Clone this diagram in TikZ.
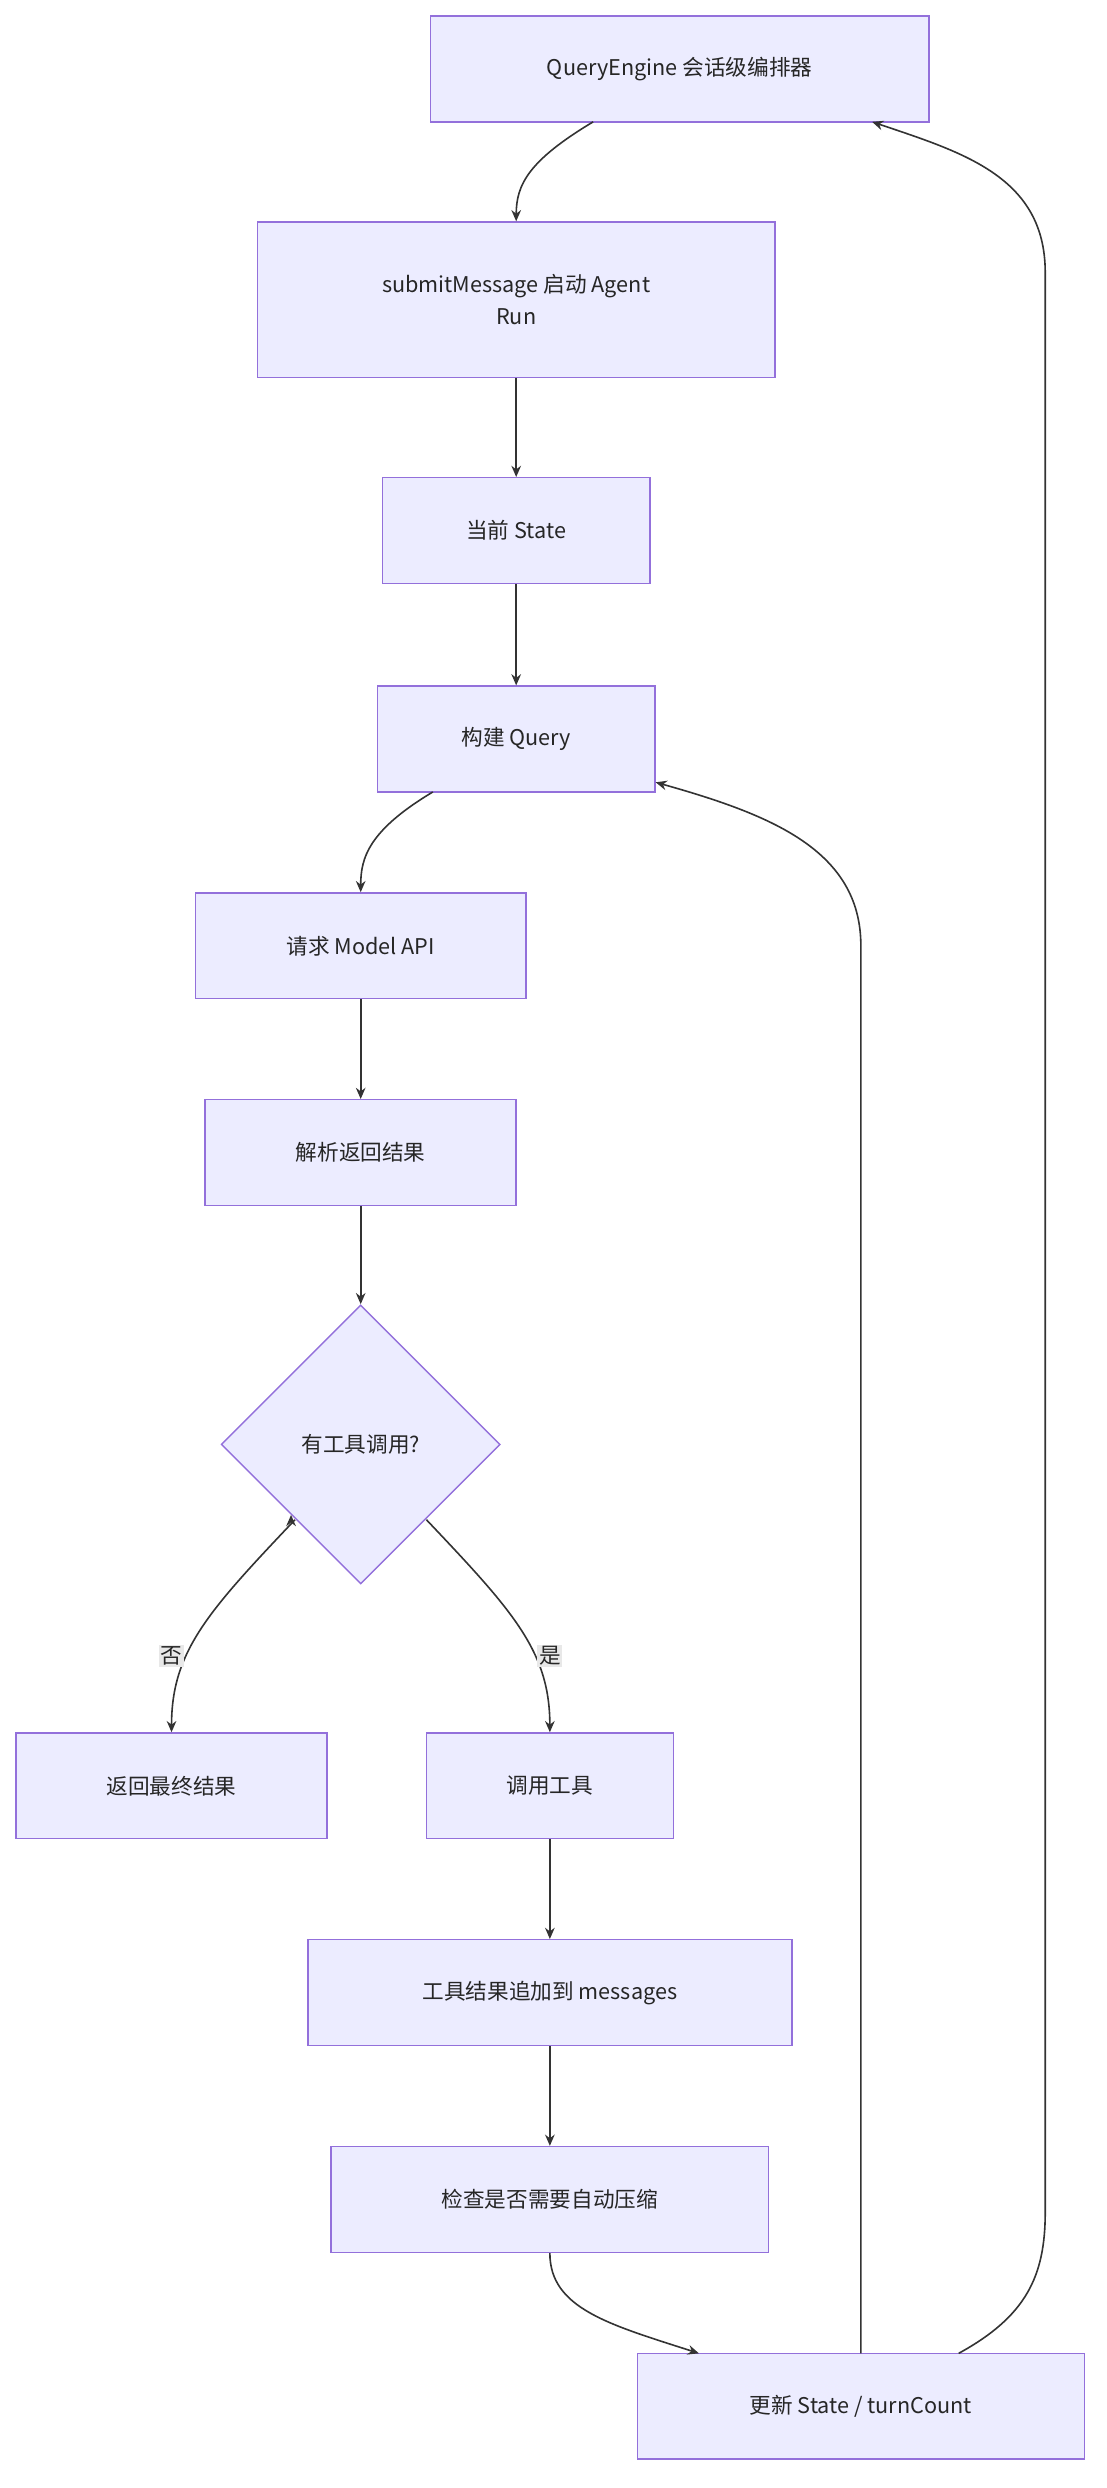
\documentclass[tikz,border=0pt]{standalone}
\usepackage{fontspec}
\setmainfont{Noto Sans CJK SC}
\usetikzlibrary{shapes.geometric,arrows.meta}
\definecolor{nfill}{HTML}{ECECFF}
\definecolor{nline}{HTML}{9370DB}
\definecolor{eline}{HTML}{333333}
\definecolor{lbg}{HTML}{E8E8E8}
\begin{document}
\begin{tikzpicture}[x=1pt,y=-1pt,
  box/.style={draw=nline,fill=nfill,line width=0.9pt,font=\fontsize{13.5}{20}\selectfont,text=black!85,align=center,inner sep=0pt},
  conn/.style={draw=eline,line width=1pt,-{Stealth[length=7pt,width=6pt]}},
  lbl/.style={fill=lbg,font=\fontsize{13.5}{16}\selectfont,inner sep=1pt,text=black!85}]
\useasboundingbox (0,0) rectangle (690,1552);
\node[box,minimum width=311,minimum height=66] (qe) at (424,43) {QueryEngine 会话级编排器};
\node[box,minimum width=323,minimum height=97] (sub) at (322,187) {submitMessage 启动 Agent\\Run};
\node[box,minimum width=167,minimum height=66] (st) at (322,331) {当前 State};
\node[box,minimum width=173,minimum height=66] (bq) at (322,461) {构建 Query};
\node[box,minimum width=206,minimum height=66] (api) at (225,590) {请求 Model API};
\node[box,minimum width=194,minimum height=66] (parse) at (225,719) {解析返回结果};
\node[box,diamond,minimum width=174,minimum height=174] (dec) at (225,901) {有工具调用?};
\node[box,minimum width=194,minimum height=66] (ret) at (107,1114) {返回最终结果};
\node[box,minimum width=154,minimum height=66] (call) at (343,1114) {调用工具};
\node[box,minimum width=302,minimum height=66] (app) at (343,1243) {工具结果追加到 messages};
\node[box,minimum width=273,minimum height=66] (chk) at (343,1372) {检查是否需要自动压缩};
\node[box,minimum width=279,minimum height=66] (upd) at (537,1501) {更新 State / turnCount};
\coordinate (a1) at (370,76);
\draw[conn] (a1) .. controls (330,100) and (322,115) .. (sub.north);
\draw[conn] (sub) -- (st);
\draw[conn] (st) -- (bq);
\coordinate (a2) at (270,494);
\draw[conn] (a2) .. controls (230,518) and (225,535) .. (api.north);
\draw[conn] (api) -- (parse);
\draw[conn] (parse) -- (dec);
\draw[conn] (dec.west) ++(44,44) coordinate (dl) ;
\draw[conn] (184,948) .. controls (130,1005) and (107,1030) .. (ret.north);
\draw[conn] (266,948) .. controls (320,1005) and (343,1030) .. (call.north);
\node[lbl] (no) at (107,1033) {否};
\node[lbl] (yes) at (343,1033) {是};
\draw[conn] (call) -- (app);
\draw[conn] (app) -- (chk);
\coordinate (a3) at (436,1468);
\draw[conn] (chk.south) .. controls (343,1440) and (380,1450) .. (a3);
\coordinate (u1) at (537,1468);
\coordinate (b1) at (409,488);
\draw[conn] (u1) -- (537,590) .. controls (537,530) and (480,508) .. (b1);
\coordinate (u2) at (598,1468);
\coordinate (q2) at (544,76);
\draw[conn] (u2) .. controls (640,1445) and (652,1420) .. (652,1380) -- (652,170) .. controls (652,110) and (600,95) .. (q2);
\end{tikzpicture}
\end{document}
